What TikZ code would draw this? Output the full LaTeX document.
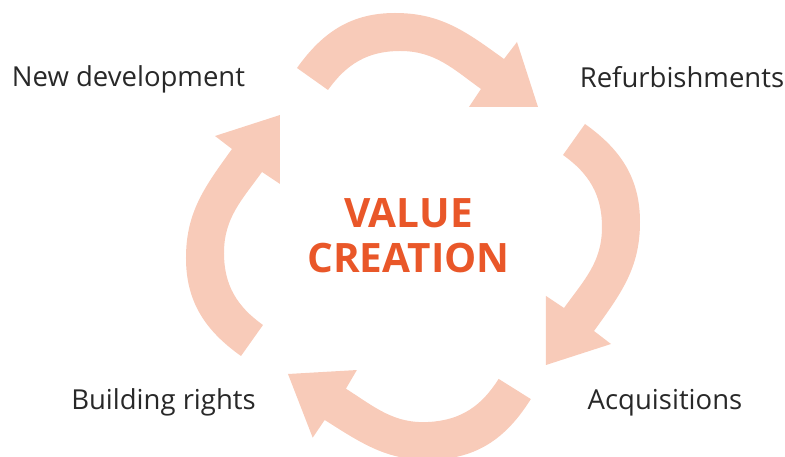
\documentclass[tikz,border=0pt]{standalone}
\usepackage{fontspec}
\setmainfont{Open Sans}
\usepackage{xcolor}
\usepackage{tikz}

\definecolor{arrowpink}{RGB}{248,203,185}
\definecolor{valueorange}{RGB}{233,87,41}
\definecolor{labelgray}{RGB}{40,40,40}

\tikzset{
  cyclearrow/.pic={
    \fill[arrowpink] (-116,172) to[out=54.6,in=180] (-18,227) to[out=0,in=144.2] (91,181)
      -- (104,198) -- (125,133) -- (56,133) -- (68,151)
      to[out=144.2,in=0] (-13,189) to[out=180,in=54.6] (-85,150) -- cycle;
  },
  stage/.style={text=labelgray,inner sep=0pt,anchor=base,font=\fontsize{27.5}{32}\selectfont},
  core/.style={text=valueorange,inner sep=0pt,align=center,font=\bfseries\fontsize{40.5}{45}\selectfont}
}

\begin{document}
\begin{tikzpicture}[x=1pt,y=1pt]
\clip (-413,-217) rectangle (372,240);
%四个弯箭头
\pic {cyclearrow};
\pic[rotate=-90] {cyclearrow};
\pic[shift={(-125,-134)},rotate=183.3,shift={(-125,-133)}] {cyclearrow};
\pic[rotate=90] {cyclearrow};

%中心
\node[core] (core) at (-4.5,4) {VALUE\\CREATION};

%四个环节
\node[stage] (newdev) at (-284.5,153) {New development};
\node[stage] (refurb) at (269,152) {Refurbishments};
\node[stage] (acq) at (252,-170) {Acquisitions};
\node[stage] (rights) at (-249.5,-170) {Building rights};
\end{tikzpicture}
\end{document}
